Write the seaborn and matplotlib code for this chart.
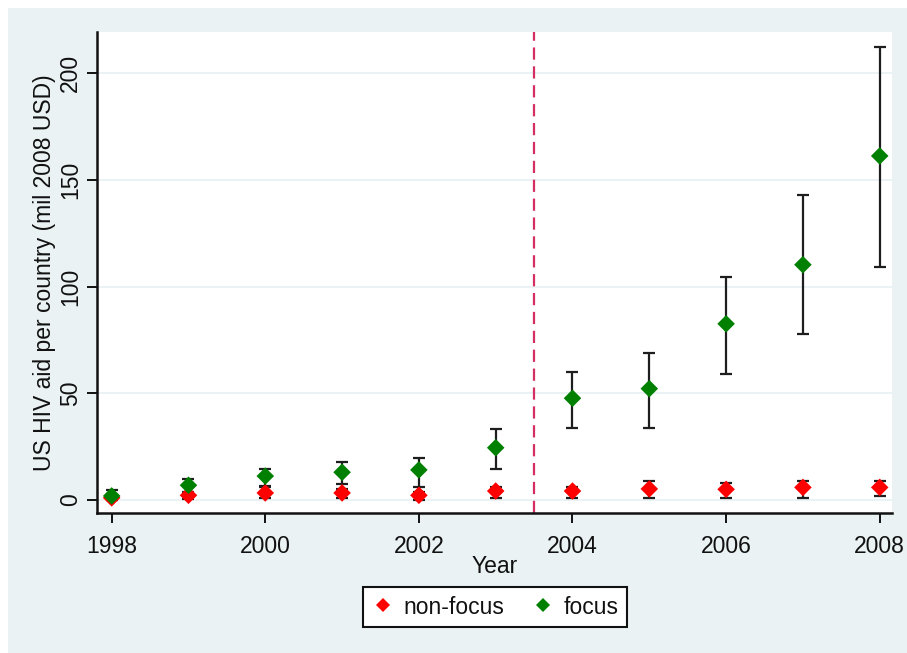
import numpy as np
import pandas as pd
import matplotlib
matplotlib.use("Agg")
import matplotlib.pyplot as plt
from matplotlib.patches import Rectangle
import seaborn as sns

# US HIV aid per country, by year and country group (mean with 95% CI)
years = [1998, 1999, 2000, 2001, 2002, 2003, 2004, 2005, 2006, 2007, 2008]

nonfocus_mean = [1.0, 2.2, 3.3, 3.3, 2.2, 4.2, 4.2, 5.2, 5.0, 5.9, 5.9]
nonfocus_low = [0.0, 0.3, 0.8, 0.8, 0.0, 0.9, 0.9, 1.1, 1.1, 1.1, 1.9]
nonfocus_high = [2.2, 3.8, 6.0, 5.0, 3.9, 6.2, 5.9, 9.0, 8.1, 9.0, 9.0]

focus_mean = [1.9, 6.9, 11.2, 13.0, 14.1, 24.5, 47.7, 52.2, 82.6, 110.3, 161.3]
focus_low = [0.0, 3.0, 6.4, 7.4, 6.2, 14.4, 33.9, 33.9, 59.1, 78.0, 109.1]
focus_high = [4.5, 10.0, 14.4, 18.0, 19.8, 33.1, 59.9, 68.8, 104.5, 143.0, 212.5]

groups = ["non-focus", "focus"]
group_colors = {"non-focus": "#ff0000", "focus": "#008000"}
policy_year = 2003.5

x_ticks = [1998, 2000, 2002, 2004, 2006, 2008]
y_ticks = [0, 50, 100, 150, 200]

df = pd.DataFrame({
    "Year": years * 2,
    "aid": nonfocus_mean + focus_mean,
    "low": nonfocus_low + focus_low,
    "high": nonfocus_high + focus_high,
    "group": ["non-focus"] * len(years) + ["focus"] * len(years),
})

sns.set_theme(style="white")
plt.rcParams["font.family"] = ["Liberation Sans", "DejaVu Sans"]

FS = 16.5
bg = "#eaf2f3"
fig = plt.figure(figsize=(9.07, 6.53), dpi=100, facecolor="white")
fig.patches.append(Rectangle((8 / 907, 0), 1, 1 - 8 / 653, transform=fig.transFigure,
                             facecolor=bg, edgecolor="none", zorder=-10))

ax = fig.add_axes([96.7 / 907, 1 - 513 / 653, (892 - 96.7) / 907, (513 - 32) / 653])
ax.set_facecolor("white")

# confidence intervals
for g in groups:
    sub = df[df["group"] == g]
    ax.errorbar(sub["Year"], sub["aid"],
                yerr=[sub["aid"] - sub["low"], sub["high"] - sub["aid"]],
                fmt="none", ecolor="#1e1e1e", elinewidth=1.6, capsize=4.5,
                capthick=1.6, zorder=2)

sns.scatterplot(data=df, x="Year", y="aid", hue="group", hue_order=groups,
                palette=group_colors, marker="D", s=80, linewidth=0,
                ax=ax, zorder=3, legend=False)

ax.axvline(policy_year, color="#d42f62", linestyle=(0, (5.5, 3)), linewidth=1.6, zorder=1)

ax.set_xlim(1997.805, 2008.16)
ax.set_ylim(-6.1, 219.4)
ax.set_xticks(x_ticks)
ax.set_yticks(y_ticks)
ax.yaxis.grid(True, color=bg, linewidth=1.4, zorder=0)
ax.xaxis.grid(False)

for side in ["top", "right"]:
    ax.spines[side].set_visible(False)
for side in ["left", "bottom"]:
    ax.spines[side].set_color("#111111")
    ax.spines[side].set_linewidth(1.8)

ax.tick_params(axis="both", which="major", direction="out", length=7.5, width=1.4,
               color="#111111", labelsize=FS, labelcolor="#111111", bottom=True, left=True)
ax.tick_params(axis="x", pad=8)
ax.tick_params(axis="y", pad=3)
for lab in ax.get_yticklabels():
    lab.set_rotation(90)
    lab.set_va("center")

ax.set_xlabel("Year", fontsize=FS, color="#111111", labelpad=-2)
ax.set_ylabel("US HIV aid per country (mil 2008 USD)", fontsize=FS, color="#111111", labelpad=2)

handles = [plt.Line2D([], [], marker="D", linestyle="none", markersize=7,
                      markerfacecolor=group_colors[g], markeredgewidth=0) for g in groups]
leg = fig.legend(handles, groups, loc="center", bbox_to_anchor=(495 / 907, 46 / 653),
                 ncol=2, fontsize=FS, frameon=True, fancybox=False, framealpha=1,
                 edgecolor="#111111", handletextpad=0.4, columnspacing=1.2,
                 handlelength=1.0, borderpad=0.35)
leg.get_frame().set_linewidth(1.5)
for t in leg.get_texts():
    t.set_color("#111111")

fig.savefig("out.png", dpi=100, facecolor=fig.get_facecolor())
